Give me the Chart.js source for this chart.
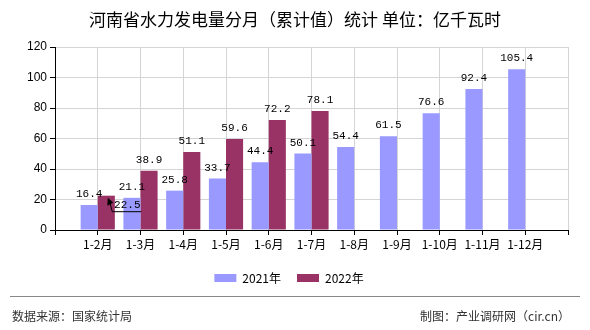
<!DOCTYPE html>
<html>
<head>
<meta charset="utf-8">
<script src="https://cdn.jsdelivr.net/npm/chart.js@4"></script>
<style>
  body { margin: 0; background: #fff; }
  #wrap { position: relative; width: 590px; height: 330px; }
  #title { position: absolute; left: 0; top: 6px; width: 590px; text-align: center;
    font: 17px "Noto Sans CJK SC", sans-serif; color: #000; }
  #rule { position: absolute; left: 10px; top: 296px; width: 570px; height: 0;
    border-top: 1px solid #888; }
  .foot { position: absolute; top: 307px; font: 12px "Noto Sans CJK SC", sans-serif; color: #333; }
</style>
</head>
<body>
<div id="wrap">
  <canvas id="myChart" width="590" height="330"></canvas>
  <div id="title">河南省水力发电量分月（累计值）统计 单位：亿千瓦时</div>
  <div id="rule"></div>
  <div class="foot" style="left:12px">数据来源：国家统计局</div>
  <div class="foot" style="right:20px">制图：产业调研网（cir.cn）</div>
</div>
<script>
const months = ["1-2月", "1-3月", "1-4月", "1-5月", "1-6月", "1-7月", "1-8月", "1-9月", "1-10月", "1-11月", "1-12月"];
const values2021 = [16.4, 21.1, 25.8, 33.7, 44.4, 50.1, 54.4, 61.5, 76.6, 92.4, 105.4];
const values2022 = [22.5, 38.9, 51.1, 59.6, 72.2, 78.1, null, null, null, null, null];
const yTicks = [0, 20, 40, 60, 80, 100, 120];

// labels sit on the gridlines, so pad the ends with empty slots
const labels = ["", ...months, ""];
const pad = (arr) => [null, ...arr, null];

// the 22.5 label is pushed off the bar with a leader line
const callout = { dataset: 1, index: 1, dx: 21, dy: 9 };

const valueLabels = {
  id: "value_labels",
  afterDatasetsDraw: (chart) => {
    const ctx = chart.ctx;
    ctx.save();
    ctx.font = "11px 'Liberation Mono', monospace";
    ctx.fillStyle = "#000";
    ctx.textAlign = "center";
    ctx.textBaseline = "middle";
    chart.data.datasets.forEach((ds, di) => {
      chart.getDatasetMeta(di).data.forEach((bar, i) => {
        const v = ds.data[i];
        if (v === null || v === undefined) return;
        if (di === callout.dataset && i === callout.index) {
          const tx = bar.x + callout.dx;
          const ty = bar.y + callout.dy;
          ctx.fillText(v.toFixed(1), tx, ty);
          ctx.strokeStyle = "#000";
          ctx.lineWidth = 1;
          ctx.beginPath();
          ctx.moveTo(bar.x + 3, bar.y + 5);
          ctx.lineTo(bar.x + 6, ty + 7);
          ctx.lineTo(tx + 14, ty + 7);
          ctx.stroke();
          ctx.beginPath();
          ctx.moveTo(bar.x + 1.5, bar.y + 2);
          ctx.lineTo(bar.x + 1, bar.y + 10);
          ctx.lineTo(bar.x + 7, bar.y + 7);
          ctx.closePath();
          ctx.fill();
          return;
        }
        ctx.fillText(v.toFixed(1), bar.x, bar.y - 11);
      });
    });
    ctx.restore();
  },
};

const config = {
  type: "bar",
  data: {
    labels: labels,
    datasets: [
      {
        label: "2021年",
        backgroundColor: "#9999ff",
        data: pad(values2021),
      },
      {
        label: "2022年",
        backgroundColor: "#993366",
        data: pad(values2022),
      },
    ],
  },
  options: {
    responsive: false,
    animation: false,
    layout: { padding: { left: 10, right: 22, top: 47, bottom: 36 } },
    datasets: { bar: { categoryPercentage: 0.8, barPercentage: 1.0 } },
    scales: {
      x: {
        offset: false,
        afterFit: (scale) => { scale.height = 26; },
        grid: { color: "#d4d4d4", tickColor: "#000", tickLength: 5, offset: false },
        border: { color: "#000" },
        ticks: {
          color: "#000",
          font: { family: "'Noto Sans CJK SC'", size: 12 },
          maxRotation: 0,
          autoSkip: false,
          padding: 2,
        },
      },
      y: {
        min: 0,
        max: 120,
        afterFit: (scale) => { scale.width = 45; },
        afterBuildTicks: (scale) => { scale.ticks = yTicks.map((v) => ({ value: v })); },
        grid: { color: "#d4d4d4", tickColor: "#000", tickLength: 5 },
        border: { color: "#000" },
        ticks: {
          color: "#000",
          font: { family: "'Liberation Sans'", size: 12 },
          padding: 3,
        },
      },
    },
    plugins: {
      legend: {
        position: "bottom",
        labels: {
          boxWidth: 22,
          boxHeight: 8,
          padding: 16,
          color: "#000",
          font: { family: "'Noto Sans CJK SC'", size: 12 },
        },
      },
      tooltip: { enabled: false },
    },
  },
  plugins: [valueLabels],
};

const myChart = new Chart(document.getElementById("myChart"), config);
</script>
</body>
</html>
